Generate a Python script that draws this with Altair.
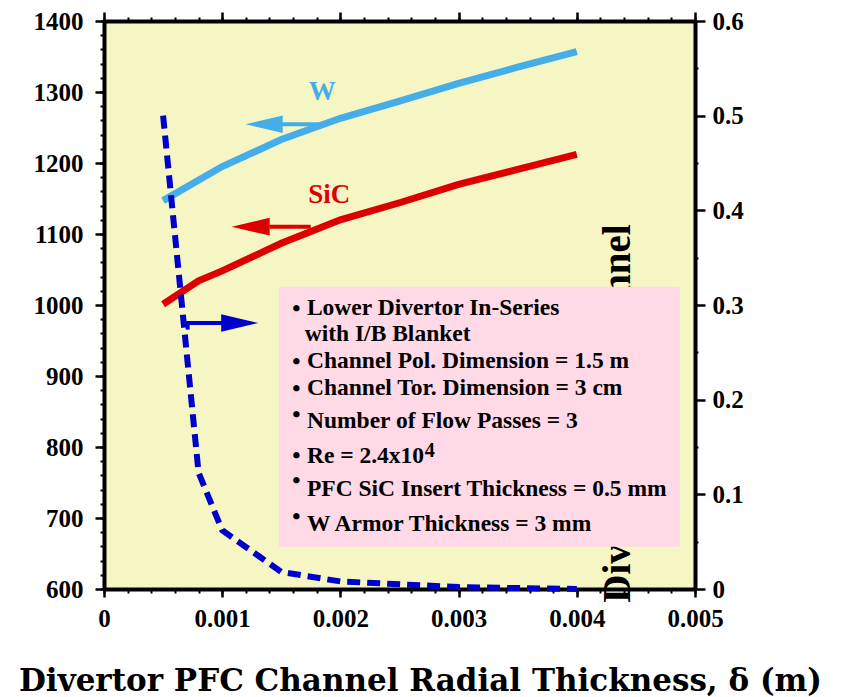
import altair as alt
import pandas as pd

# ---------------- data ----------------
w_x = [0.0005, 0.001, 0.0015, 0.002, 0.0025, 0.003, 0.0035, 0.004]
w_temp = [1147, 1195, 1233, 1263, 1287, 1312, 1335, 1357]

sic_x = [0.0005, 0.0008, 0.001, 0.0015, 0.002, 0.0025, 0.003, 0.0035, 0.004]
sic_temp = [1001, 1034, 1048, 1087, 1120, 1144, 1170, 1191, 1212]

dp_x = [0.0005, 0.0008, 0.001, 0.0015, 0.002, 0.003, 0.004]
dp_val = [0.50, 0.123, 0.062, 0.018, 0.008, 0.002, 0.0]

x_ticks = [0, 0.001, 0.002, 0.003, 0.004, 0.005]
x_minor = [round(i * 0.0002, 4) for i in range(26)]
yl_ticks = [600, 700, 800, 900, 1000, 1100, 1200, 1300, 1400]
yl_minor = list(range(600, 1401, 20))
yr_ticks = [0, 0.1, 0.2, 0.3, 0.4, 0.5, 0.6]
yr_minor = [0.05, 0.15, 0.25, 0.35, 0.45, 0.55]

box_lines = [
    "Lower Divertor In-Series",
    "with I/B Blanket",
    "Channel Pol. Dimension = 1.5 m",
    "Channel Tor. Dimension = 3 cm",
    "Number of Flow Passes = 3",
    "Re = 2.4x10",
    "PFC SiC Insert Thickness = 0.5 mm",
    "W Armor Thickness = 3 mm",
]
# annotation anchor positions (data coords of left axis)
box_line_x = [0.001717, 0.001698, 0.001717, 0.001717, 0.001717, 0.001717, 0.001717, 0.001717]
box_line_y = [986.3, 948.7, 911.3, 873.7, 826.8, 777.5, 730.4, 681.1]
bullet_y = [984.9, 909.3, 872.3, 835.6, 777.9, 742.7, 692.0]

X_DOM = [0, 0.005]
YL_DOM = [600, 1400]
YR_DOM = [0, 0.6]

SERIF = "Liberation Serif"
W_BLUE = "#45AEE8"
RED = "#DD0000"
DBLUE = "#0000CC"


def xenc(field="x", axis=None):
    return alt.X(f"{field}:Q", scale=alt.Scale(domain=X_DOM, nice=False, zero=False), axis=axis)


def x2enc(field="x2"):
    return alt.X2(f"{field}:Q")


def ylenc(field="y", axis=None):
    return alt.Y(f"{field}:Q", scale=alt.Scale(domain=YL_DOM, nice=False, zero=False), axis=axis)


def yrenc(field="y", axis=None):
    return alt.Y(f"{field}:Q", scale=alt.Scale(domain=YR_DOM, nice=False, zero=False), axis=axis)


common_axis = dict(grid=False, tickColor="black", domainColor="black", labelColor="black",
                   labelFont=SERIF, labelFontWeight="bold", labelFontSize=25,
                   labelFlush=False, labelOverlap=False)

ax_bottom = alt.Axis(orient="bottom", values=x_ticks, format="~g", tickSize=8, tickWidth=2.5,
                     domainWidth=4, labelPadding=9, title="Divertor PFC Channel Radial Thickness, δ (m)",
                     titleFont="DejaVu Serif", titleFontWeight="bold", titleFontSize=31,
                     titleColor="black", titleX=316, titleY=101, titleAlign="center",
                     titleBaseline="alphabetic", **common_axis)
ax_bottom_minor = alt.Axis(orient="bottom", values=x_minor, tickSize=4, tickWidth=2, labels=False,
                           domain=False, title=None, grid=False, tickColor="black")
ax_top = alt.Axis(orient="top", values=x_ticks, tickSize=9, tickWidth=2.5, labels=False,
                  domain=True, domainWidth=4, domainColor="black", title=None, grid=False, tickColor="black")
ax_top_minor = alt.Axis(orient="top", values=x_minor, tickSize=4, tickWidth=2, labels=False,
                        domain=False, title=None, grid=False, tickColor="black")
ax_left = alt.Axis(orient="left", values=yl_ticks, format="d", tickSize=9, tickWidth=2.5,
                   domainWidth=4, labelPadding=12, title=None, **common_axis)
ax_left_minor = alt.Axis(orient="left", values=yl_minor, tickSize=4, tickWidth=2, labels=False,
                         domain=False, title=None, grid=False, tickColor="black")
ax_right = alt.Axis(orient="right", values=yr_ticks, format="~g", tickSize=10, tickWidth=2.5,
                    domainWidth=4, labelPadding=7, title=None, **common_axis)
ax_right_minor = alt.Axis(orient="right", values=yr_minor, tickSize=3, tickWidth=2, labels=False,
                          domain=False, title=None, grid=False, tickColor="black")

w_df = pd.DataFrame({"x": w_x, "y": w_temp})
sic_df = pd.DataFrame({"x": sic_x, "y": sic_temp})
dp_df = pd.DataFrame({"x": dp_x, "y": dp_val})

# --- curves with axes ---
w_line = alt.Chart(w_df).mark_line(color=W_BLUE, strokeWidth=7).encode(
    x=xenc(axis=ax_bottom), y=ylenc(axis=ax_left))
sic_line = alt.Chart(sic_df).mark_line(color=RED, strokeWidth=7).encode(
    x=xenc(axis=ax_top), y=ylenc(axis=ax_left_minor))
dp_line = alt.Chart(dp_df).mark_line(color=DBLUE, strokeWidth=6, strokeDash=[13, 7]).encode(
    x=xenc(axis=ax_bottom_minor), y=yrenc(axis=ax_right))
minor_holder = alt.Chart(dp_df).mark_point(opacity=0).encode(
    x=xenc(axis=ax_top_minor), y=yrenc(axis=ax_right_minor))

# --- rotated (partly hidden) axis title text ---
rot_df = pd.DataFrame({"x": [0.004448], "y": [580.7], "t": ["Divertor PFC Channel"]})
rot_text = alt.Chart(rot_df).mark_text(angle=270, align="left", baseline="alphabetic", font=SERIF,
                                       fontWeight="bold", fontSize=39, color="black").encode(
    x=xenc(), y=ylenc(), text="t:N")

# --- pink info box ---
box_df = pd.DataFrame({"x": [0.001478], "x2": [0.004871], "y": [659.6], "y2": [1025.8]})
box = alt.Chart(box_df).mark_rect(color="#FFD9E5").encode(
    x=xenc(), x2=x2enc(), y=ylenc(), y2=alt.Y2("y2:Q"))

lines_df = pd.DataFrame({"x": box_line_x, "y": box_line_y, "t": box_lines})
box_text = alt.Chart(lines_df).mark_text(align="left", baseline="alphabetic", font=SERIF,
                                         fontWeight="bold", fontSize=23.5, color="black").encode(
    x=xenc(), y=ylenc(), text="t:N")
bul_df = pd.DataFrame({"x": [0.001628] * len(bullet_y), "y": bullet_y, "t": ["•"] * len(bullet_y)})
bullets = alt.Chart(bul_df).mark_text(align="center", baseline="alphabetic", font=SERIF,
                                      fontWeight="bold", fontSize=23.5, color="black").encode(
    x=xenc(), y=ylenc(), text="t:N")
sup_df = pd.DataFrame({"x": [0.002713], "y": [786.3], "t": ["4"]})
sup = alt.Chart(sup_df).mark_text(align="left", baseline="alphabetic", font=SERIF,
                                  fontWeight="bold", fontSize=20, color="black").encode(
    x=xenc(), y=ylenc(), text="t:N")

# --- series labels ---
lab_df = pd.DataFrame({"x": [0.001846, 0.001905], "y": [1289, 1144], "t": ["W", "SiC"],
                       "c": [W_BLUE, RED]})
labels = alt.Chart(lab_df).mark_text(align="center", baseline="alphabetic", font=SERIF,
                                     fontWeight="bold", fontSize=27).encode(
    x=xenc(), y=ylenc(), text="t:N", color=alt.Color("c:N", scale=None))

# --- arrows ---
LEFT_HEAD = "M-1,0L1,-0.47L1,0.47Z"
RIGHT_HEAD = "M1,0L-1,-0.47L-1,0.47Z"

w_arrow_line = alt.Chart(pd.DataFrame({"x": [0.00150], "x2": [0.001844], "y": [1254.6]})).mark_rule(
    color=W_BLUE, strokeWidth=4).encode(x=xenc(), x2=x2enc(), y=ylenc())
w_arrow_head = alt.Chart(pd.DataFrame({"x": [0.001355], "y": [1254.6]})).mark_point(
    shape=LEFT_HEAD, filled=True, size=1369, color=W_BLUE, opacity=1, strokeWidth=0).encode(
    x=xenc(), y=ylenc())

s_arrow_line = alt.Chart(pd.DataFrame({"x": [0.0014], "x2": [0.001749], "y": [1110.3]})).mark_rule(
    color=RED, strokeWidth=4).encode(x=xenc(), x2=x2enc(), y=ylenc())
s_arrow_head = alt.Chart(pd.DataFrame({"x": [0.001241], "y": [1110.3]})).mark_point(
    shape=LEFT_HEAD, filled=True, size=1444, color=RED, opacity=1, strokeWidth=0).encode(
    x=xenc(), y=ylenc())

b_arrow_line = alt.Chart(pd.DataFrame({"x": [0.000708], "x2": [0.00101], "y": [0.281]})).mark_rule(
    color=DBLUE, strokeWidth=4).encode(x=xenc(), x2=x2enc(), y=yrenc())
b_arrow_stub = alt.Chart(pd.DataFrame({"x": [0.000708], "y": [0.283], "y2": [0.274]})).mark_rule(
    color=DBLUE, strokeWidth=4).encode(x=xenc(), y=yrenc(), y2=alt.Y2("y2:Q"))
b_arrow_head = alt.Chart(pd.DataFrame({"x": [0.001148], "y": [0.281]})).mark_point(
    shape=RIGHT_HEAD, filled=True, size=1369, color=DBLUE, opacity=1, strokeWidth=0).encode(
    x=xenc(), y=yrenc())

chart = alt.layer(
    rot_text, box, box_text, bullets, sup,
    w_line, sic_line, dp_line, minor_holder,
    labels, w_arrow_line, w_arrow_head, s_arrow_line, s_arrow_head,
    b_arrow_line, b_arrow_stub, b_arrow_head,
).resolve_scale(x="independent", y="independent").properties(
    width=591, height=568,
    autosize=alt.AutoSizeParams(type="none"),
    padding={"left": 104, "top": 21, "right": 149, "bottom": 108},
    background="white",
).configure_view(fill="#F6F6C4", stroke=None)

chart.save("out.html", embed_options={"renderer": "svg", "actions": False})
